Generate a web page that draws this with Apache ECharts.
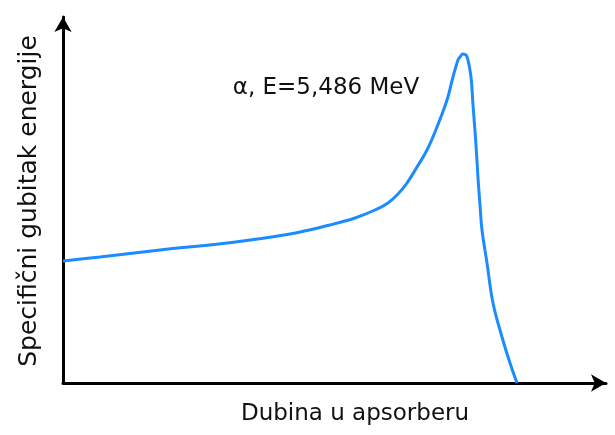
<!DOCTYPE html>
<html>
<head>
<meta charset="utf-8">
<script src="https://cdn.jsdelivr.net/npm/echarts@6/dist/echarts.min.js"></script>
<style>html,body{margin:0;padding:0;background:#fff}#c{width:615px;height:435px}</style>
</head>
<body>
<div id="c"></div>
<script>
var depth = [0, 37, 97, 164, 227, 267, 292, 312, 325, 335, 344, 354, 364, 374, 384, 390, 395, 397, 400, 403, 405, 408, 410, 413, 415, 417, 419, 424, 430, 439, 447, 454];
var loss  = [122, 126, 133, 140, 149, 158, 165, 173, 180, 189, 200, 216, 233, 256, 283, 306, 323, 326, 329, 328, 323, 306, 278, 238, 205, 178, 153, 120, 80, 46, 20, 0];
var xTitle = 'Dubina u apsorberu';
var yTitle = 'Specifični gubitak energije';
var label = 'α, E=5,486 MeV';

var pts = depth.map(function (d, i) { return [d, loss[i]]; });
var chart = echarts.init(document.getElementById('c'), null, {renderer: 'canvas'});
chart.setOption({
  animation: false,
  grid: {left: 63, top: 17, right: 9, bottom: 52},
  xAxis: {
    type: 'value', min: 0, max: 543,
    axisLine: {lineStyle: {color: '#000', width: 3}, symbol: ['none', 'arrow'], symbolSize: [13, 15]},
    axisTick: {show: false}, axisLabel: {show: false}, splitLine: {show: false}
  },
  yAxis: {
    type: 'value', min: 0, max: 366,
    axisLine: {lineStyle: {color: '#000', width: 3}, symbol: ['none', 'arrow'], symbolSize: [13, 15]},
    axisTick: {show: false}, axisLabel: {show: false}, splitLine: {show: false}
  },
  graphic: [{
    type: 'text', x: 326, y: 88,
    style: {text: label, font: '23px "DejaVu Sans"', fill: '#111', align: 'center', verticalAlign: 'middle'}
  }, {
    type: 'text', x: 355, y: 414,
    style: {text: xTitle, font: '23px "DejaVu Sans"', fill: '#111', align: 'center', verticalAlign: 'middle'}
  }, {
    type: 'text', x: 29, y: 201, rotation: Math.PI / 2,
    style: {text: yTitle, font: '25px "DejaVu Sans"', fill: '#111', align: 'center', verticalAlign: 'middle'}
  }],
  series: [{
    type: 'line', data: pts, smooth: 0.4, showSymbol: false,
    lineStyle: {color: '#1a8cff', width: 3}
  }]
});
</script>
</body>
</html>
